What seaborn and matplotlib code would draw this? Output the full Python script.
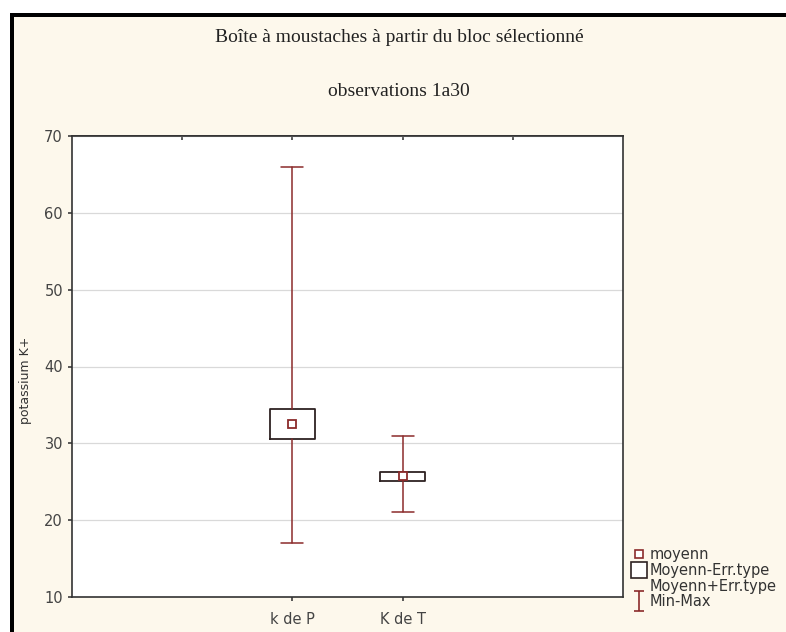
import matplotlib
matplotlib.use("Agg")
import matplotlib.pyplot as plt
from matplotlib.lines import Line2D
from matplotlib.patches import Rectangle
from matplotlib.path import Path
import seaborn as sns

# data
categories = ["k de P", "K de T"]
means = [32.5, 25.7]
std_errs = [1.95, 0.55]
mins = [17, 21]
maxs = [66, 31]

title_lines = ["Boîte à moustaches à partir du bloc sélectionné", "observations 1a30"]
y_label = "potassium K+"
legend_labels = ["moyenn", "Moyenn-Err.type", "Moyenn+Err.type", "Min-Max"]

CREAM = "#fdf8ec"
RED = "#8b2b2b"
DARK = "#2e2222"

sns.set_theme(style="white")
plt.rcParams["font.family"] = ["DejaVu Sans"]

W, H = 786, 632
fig = plt.figure(figsize=(W / 100, H / 100), dpi=100)
fig.patch.set_facecolor("white")

# cream panel with black frame on left/top
fig.add_artist(Rectangle((14 / W, 0), 1, 1 - 17 / H, transform=fig.transFigure,
                         facecolor=CREAM, edgecolor="none", zorder=-10))
fig.add_artist(Rectangle((10 / W, 0), 4 / W, 1 - 13 / H, transform=fig.transFigure,
                         facecolor="black", edgecolor="none", zorder=-9))
fig.add_artist(Rectangle((10 / W, 1 - 17 / H), 1, 4 / H, transform=fig.transFigure,
                         facecolor="black", edgecolor="none", zorder=-9))

ax = fig.add_axes([72 / W, 1 - 597 / H, (623 - 72) / W, (597 - 136) / H])
ax.set_facecolor("white")

stats = []
for name, m, se, lo, hi in zip(categories, means, std_errs, mins, maxs):
    stats.append(dict(label=name, med=m, mean=m, q1=m - se, q3=m + se,
                      whislo=lo, whishi=hi, fliers=[]))

pos = list(range(len(categories)))
ax.bxp(stats, positions=pos, widths=0.41, showmeans=True, showfliers=False,
       capwidths=0.2, patch_artist=False,
       boxprops=dict(color=DARK, linewidth=1.3),
       whiskerprops=dict(color=RED, linewidth=1.1),
       capprops=dict(color=RED, linewidth=1.1),
       medianprops=dict(linewidth=0),
       meanprops=dict(marker="s", markersize=6, markerfacecolor="white",
                      markeredgecolor=RED, markeredgewidth=1.3))

ax.set_xlim(-2, 3)
ax.set_ylim(10, 70)
ax.set_yticks(range(10, 71, 10))
ax.set_xticks(pos)
ax.set_xticklabels(categories)
ax.yaxis.grid(True, color="#d9d9d9", linewidth=0.9)
ax.set_axisbelow(True)
for s in ax.spines.values():
    s.set_color("#333333")
    s.set_linewidth(1.2)
ax.tick_params(axis="both", colors="#444444", length=3, direction="out",
               bottom=True, left=True)
ax.tick_params(axis="y", labelsize=10.5)
ax.tick_params(axis="x", labelsize=10.5, pad=8)
top = ax.secondary_xaxis("top")
top.set_xticks([-1, 0, 1, 2])
top.tick_params(direction="in", length=3, labeltop=False, colors="#444444")
ax.set_ylabel(y_label, fontsize=9, color="#333333")
ax.yaxis.set_label_coords(-0.072, 0.47)

title_x = 399 / W
fig.text(title_x, 1 - 38 / H, title_lines[0], ha="center", va="center",
         family=["Liberation Serif"], fontsize=14, color="#222222")
fig.text(title_x, 1 - 92 / H, title_lines[1], ha="center", va="center",
         family=["Liberation Serif"], fontsize=14, color="#222222")

# legend
minmax = Path([(-0.5, 1), (0.5, 1), (0, 1), (0, -1), (-0.5, -1), (0.5, -1)],
              [Path.MOVETO, Path.LINETO, Path.MOVETO, Path.LINETO, Path.MOVETO, Path.LINETO])
handles = [
    Line2D([], [], linestyle="none", marker="s", markersize=6, markerfacecolor="white",
           markeredgecolor=RED, markeredgewidth=1.2),
    Line2D([], [], linestyle="none", marker="s", markersize=11, markerfacecolor="white",
           markeredgecolor=DARK, markeredgewidth=1.2),
    Line2D([], [], linestyle="none"),
    Line2D([], [], linestyle="none", marker=minmax, markersize=14, color=RED,
           markeredgewidth=1.2),
]
fig.legend(handles, legend_labels, loc="upper left", bbox_to_anchor=(626 / W, 1 - 540 / H),
           frameon=False, fontsize=10.5, handlelength=0.8, handletextpad=0.35,
           labelspacing=0.05, borderpad=0, labelcolor="#333333")

fig.savefig("out.png", dpi=100, facecolor=fig.get_facecolor())
